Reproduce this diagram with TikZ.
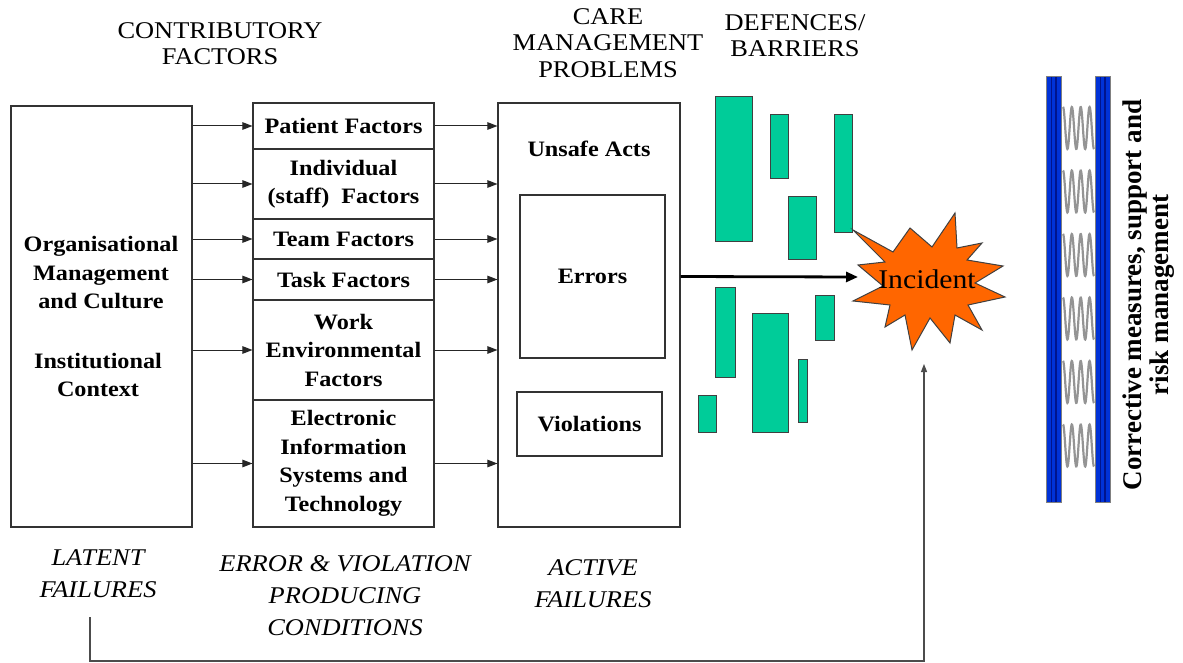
\documentclass[tikz,border=0pt]{standalone}
\usepackage{fontspec}
\setmainfont[FakeStretch=1.1]{Liberation Serif}
\newfontfamily\plainserif{Liberation Serif}
\usetikzlibrary{arrows.meta}
\definecolor{barrier}{RGB}{0,204,153}
\definecolor{burst}{RGB}{255,102,0}
\definecolor{rail}{RGB}{0,50,215}
\definecolor{raildark}{RGB}{0,20,140}
\begin{document}
\begin{tikzpicture}[x=1pt,y=-1pt,
  box/.style={draw=black!80, line width=1.1pt, fill=white, inner sep=0pt},
  cell/.style={box, minimum width=181pt, align=center,
    font={\fontsize{22}{28.5}\selectfont\bfseries}},
  boldtext/.style={align=center, inner sep=0pt,
    font={\fontsize{22}{28.5}\selectfont\bfseries}},
  head/.style={align=center, inner sep=0pt,
    font={\fontsize{24}{26.5}\selectfont}},
  foot/.style={align=center, inner sep=0pt,
    font={\fontsize{24}{32}\selectfont\itshape}},
  arr/.style={-{Triangle[length=10pt,width=7.5pt]}, line width=1pt, black!85},
  bigarr/.style={-{Triangle[length=12pt,width=10pt]}, line width=2.8pt, black},
  fbline/.style={-{Triangle[length=8pt,width=6pt]}, line width=1.1pt, black!70},
  bar/.style={fill=barrier, draw=black!75, line width=0.9pt},
  spring/.style={draw=black!42, line width=2.2pt},
]
% canvas
\fill[white] (0,0) rectangle (1183,663);
\useasboundingbox (0,0) rectangle (1183,663);

% column headings
\node[head] (hContrib) at (220,43.5) {CONTRIBUTORY\\FACTORS};
\node[head] (hCare) at (608,43) {CARE\\MANAGEMENT\\PROBLEMS};
\node[head] (hDef) at (795,35.5) {DEFENCES/\\BARRIERS};

% organisational box
\node[box, minimum width=181pt, minimum height=421pt] (org) at (101.5,316.5) {};
\node[boldtext] (orgA) at (101,273) {Organisational\\Management\\and Culture};
\node[boldtext] (orgB) at (98,375) {Institutional\\Context};

% contributory factor cells
\node[cell, minimum height=46pt]  (pat)  at (343.5,126)   {Patient Factors};
\node[cell, minimum height=70pt]  (ind)  at (343.5,184)   {Individual\\(staff)~ Factors};
\node[cell, minimum height=40pt]  (team) at (343.5,239)   {Team Factors};
\node[cell, minimum height=41pt]  (task) at (343.5,279.5) {Task Factors};
\node[cell, minimum height=100pt] (work) at (343.5,350)   {Work\\Environmental\\Factors};
\node[cell, minimum height=127pt] (elec) at (343.5,463.5) {Electronic\\Information\\Systems and\\Technology};

% care management problems
\node[box, minimum width=182pt, minimum height=424pt] (care) at (589,315) {};
\node[boldtext] (unsafe) at (589,149) {Unsafe Acts};
\node[box, minimum width=145pt, minimum height=163pt, font={\fontsize{22}{28.5}\selectfont\bfseries}] (errors) at (592.5,276.5) {Errors};
\node[box, minimum width=145pt, minimum height=64pt, font={\fontsize{22}{28.5}\selectfont\bfseries}] (viol) at (589.5,424) {Violations};

% flows through the factors
\foreach \c in {pat,ind,team,task,work,elec} {
  \draw[arr] (org.east |- \c.west) -- (\c.west);
  \draw[arr] (\c.east) -- (care.west |- \c.east);
}

% defences / barriers
\fill[bar] (715,96) rectangle (752,241);
\fill[bar] (770,114) rectangle (788,178);
\fill[bar] (834,114) rectangle (852,232);
\fill[bar] (788,196) rectangle (816,259);
\fill[bar] (715,287) rectangle (735,377);
\fill[bar] (752,313) rectangle (788,432);
\fill[bar] (798,359) rectangle (807,422);
\fill[bar] (815,295) rectangle (834,340);
\fill[bar] (698,395) rectangle (716,432);

% incident burst
\filldraw[fill=burst, draw=black!75, line width=1pt]
  (853,230) -- (893,252) -- (910,228) -- (932,247) -- (955,213) -- (957,248)
  -- (982,243) -- (967,260) -- (1003,266) -- (975,283) -- (1005,297)
  -- (968,305) -- (982,330) -- (955,315) -- (950,343) -- (930,318)
  -- (912,350) -- (905,315) -- (885,327) -- (890,305) -- (853,301)
  -- (883,286) -- (858,265) -- (885,262) -- cycle;
\node[inner sep=0pt, font={\fontsize{27}{30}\selectfont}] (incident) at (927,279) {Incident};
\coordinate (hit) at (858,277);
\draw[bigarr] (care.east |- errors.east) -- (hit);

% feedback loop from latent failures
\coordinate (fbStart) at (90,617);
\coordinate (fbBase) at (0,661);
\coordinate (fbEnd) at (924,364);
\draw[fbline] (fbStart) -- (fbStart |- fbBase) -| (fbEnd);

% failure labels
\node[foot] (latent) at (98,574) {LATENT\\FAILURES};
\node[foot] (evpc) at (345,595.5) {ERROR \& VIOLATION\\PRODUCING\\CONDITIONS};
\node[foot] (active) at (593,584) {ACTIVE\\FAILURES};

% corrective measures rails and springs
\foreach \c in {128,191.5,255,318.5,382,445.5} {
  \draw[spring] plot[domain=0:3.5, samples=121, smooth] ({1063+31*\x/3.5},{\c-21*cos(360*\x)});
}
\foreach \x in {1046,1095} {
  \fill[rail] (\x,76) rectangle ++(15.5,426);
  \draw[raildark, line width=1.2pt] (\x+5.5,76) -- ++(0,426);
  \draw[raildark, line width=1.2pt] (\x+10,76) -- ++(0,426);
  \draw[black!50, line width=0.5pt] (\x,76) rectangle ++(15.5,426);
}
\node[rotate=90, align=center, inner sep=0pt,
  font={\plainserif\fontsize{27}{27}\selectfont\bfseries}] (corr) at (1149,295)
  {Corrective measures, support and\\risk management};
\end{tikzpicture}
\end{document}
